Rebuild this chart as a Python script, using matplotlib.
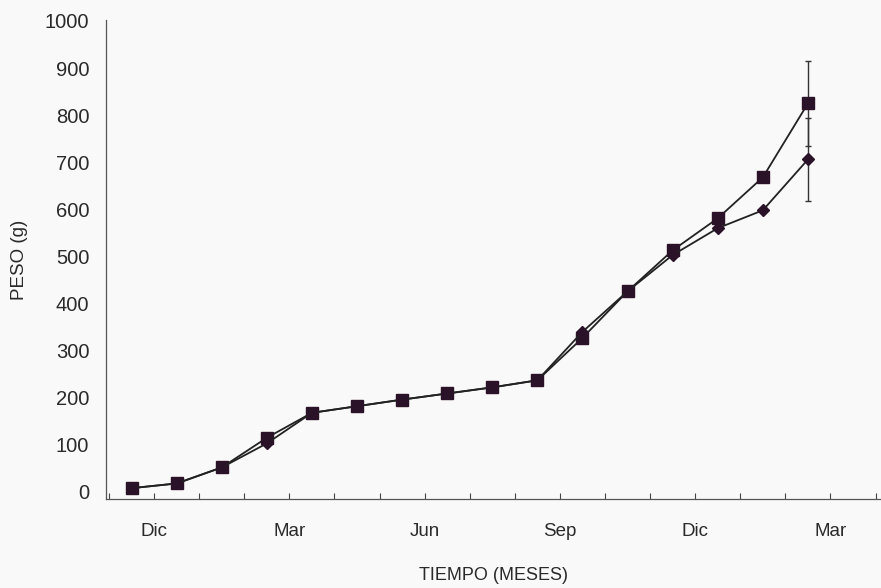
import numpy as np
import matplotlib
matplotlib.use("Agg")
import matplotlib.pyplot as plt

plt.rcParams['font.family'] = ['Liberation Sans', 'DejaVu Sans']

# pesos medios por mes (g)
meses = np.arange(16)
peso_cuadrado = [8, 18, 52, 115, 168, 182, 196, 209, 222, 237, 327, 426, 513, 581, 668, 825]
peso_rombo = [8, 18, 52, 103, 168, 182, 196, 209, 222, 237, 340, 426, 503, 560, 598, 706]
err_cuadrado = [0]*15 + [90]
err_rombo = [0]*15 + [88]

etiquetas = ["", "Dic", "", "", "Mar", "", "", "Jun", "", "", "Sep", "", "",
             "Dic", "", "", "Mar", ""]

fig = plt.figure(figsize=(8.81, 5.88), dpi=100)
fig.patch.set_facecolor('#faf9fa')
ax = fig.add_axes([106/881, 89/588, 775/881, 479/588])
ax.set_facecolor('#faf9fa')

col = '#2a1228'
ax.plot(meses, peso_cuadrado, color='#222222', lw=1.3, marker='s', ms=8,
        mfc=col, mec=col, zorder=3)
ax.plot(meses, peso_rombo, color='#222222', lw=1.3, marker='D', ms=6.5,
        mfc=col, mec=col, zorder=3)

# barras de error solo en el ultimo punto
ax.errorbar(meses[-1:], peso_cuadrado[-1:], yerr=err_cuadrado[-1:], fmt='none',
            ecolor='#333333', elinewidth=1.0, capsize=2.5, capthick=1.0)
ax.errorbar(meses[-1:], peso_rombo[-1:], yerr=err_rombo[-1:], fmt='none',
            ecolor='#333333', elinewidth=1.0, capsize=2.5, capthick=1.0)

ax.set_xlim(-0.567, 16.62)
ax.set_ylim(-15, 1002)

ax.set_xticks(np.arange(18) - 0.5)
ax.set_xticklabels(etiquetas, fontsize=13.5, color='#2a2a2a')
ax.tick_params(axis='x', direction='in', length=4, width=0.8, color='#444444', pad=17)

ax.set_yticks(range(0, 1001, 100))
ax.tick_params(axis='y', length=0, pad=12, labelsize=14.5, labelcolor='#2a2a2a')

for s in ['top', 'right']:
    ax.spines[s].set_visible(False)
for s in ['left', 'bottom']:
    ax.spines[s].set_color('#555555')
    ax.spines[s].set_linewidth(0.9)

ax.set_ylabel('PESO (g)', fontsize=13.5, color='#2a2a2a', labelpad=12)
ax.set_xlabel('TIEMPO (MESES)', fontsize=13, color='#2a2a2a', labelpad=20)

fig.savefig('out.png', dpi=100)
